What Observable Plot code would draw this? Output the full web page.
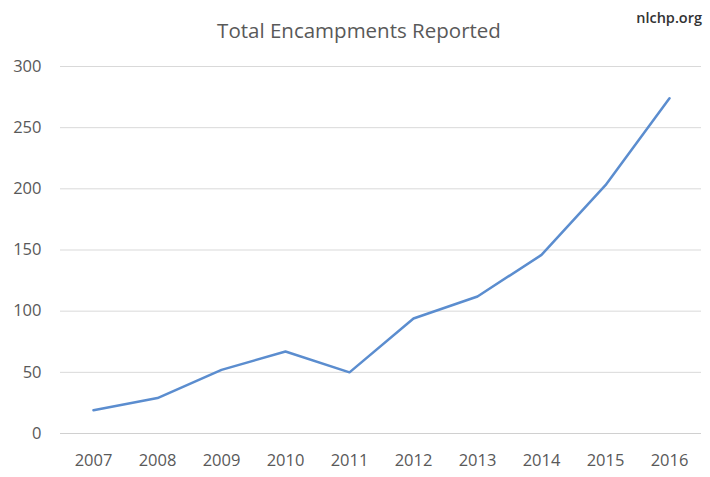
<!DOCTYPE html>
<html>
<head>
<meta charset="utf-8">
<script src="https://cdn.jsdelivr.net/npm/d3@7"></script>
<script src="https://cdn.jsdelivr.net/npm/@observablehq/plot@0.6"></script>
<style>
  body { margin: 0; background: #fff; font-family: "Open Sans", sans-serif; }
  #wrap { position: relative; width: 710px; height: 477px; }
  #head { position: relative; height: 50px; }
  #title { position: absolute; left: 0; width: 718px; top: 16px; text-align: center; font-size: 20.5px; color: #595959; white-space: nowrap; }
  #src { position: absolute; right: 8px; top: 8px; font-size: 14.5px; font-weight: 600; color: #333; }
</style>
</head>
<body>
<div id="wrap">
  <div id="head">
    <div id="title">Total Encampments Reported</div>
    <div id="src">nlchp.org</div>
  </div>
  <div id="chart"></div>
</div>
<script>
const years = ["2007","2008","2009","2010","2011","2012","2013","2014","2015","2016"];
const encampments = [19, 29, 52, 67, 50, 94, 112, 146, 203, 274];
const yTicks = [0, 50, 100, 150, 200, 250, 300];

const data = years.map((y, i) => ({year: y, value: encampments[i]}));

const chart = Plot.plot({
  width: 710,
  height: 427,
  marginTop: 16,
  marginBottom: 44,
  marginLeft: 60,
  marginRight: 9,
  style: {fontFamily: "Open Sans, sans-serif", fontSize: "16.5px", color: "#595959", background: "#fff"},
  x: {type: "point", domain: years, padding: 0.5, label: null},
  y: {domain: [0, 300], label: null},
  marks: [
    Plot.gridY(yTicks, {stroke: "#d9d9d9", strokeOpacity: 1}),
    Plot.ruleX([0], {frameAnchor: "left", stroke: "#d9d9d9"}),
    Plot.ruleY([0], {stroke: "#d0d0d0"}),
    Plot.axisY(yTicks, {tickSize: 0, tickPadding: 19, label: null}),
    Plot.axisX({tickSize: 0, tickPadding: 21, label: null}),
    Plot.lineY(data, {x: "year", y: "value", stroke: "#5b8dcf", strokeWidth: 2.5})
  ]
});
document.getElementById("chart").appendChild(chart);
</script>
</body>
</html>
